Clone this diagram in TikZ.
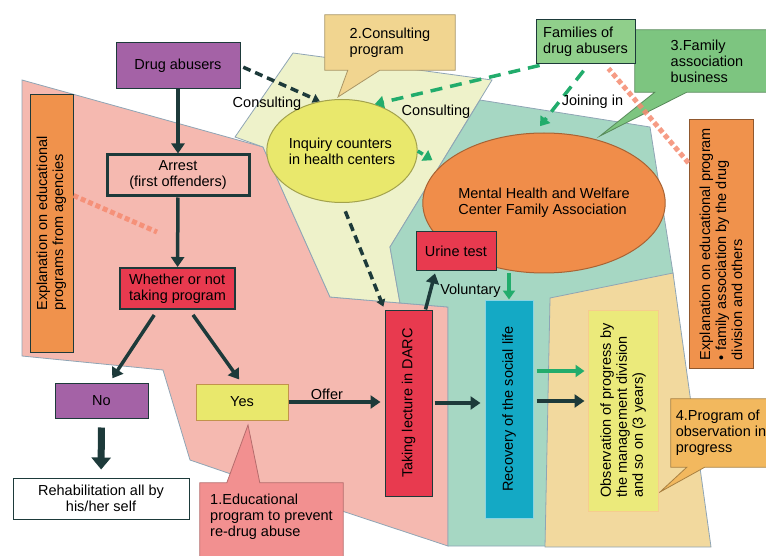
\documentclass[tikz,border=0pt]{standalone}
\usepackage{fontspec}
\setmainfont{Liberation Sans}
\usepackage{xcolor}
\usepackage{tikz}
\usetikzlibrary{arrows.meta,calc,backgrounds,shapes.geometric}
\definecolor{regpink}{HTML}{F5B9B0}
\definecolor{regcream}{HTML}{EEF2CA}
\definecolor{regteal}{HTML}{A6D7C3}
\definecolor{regtan}{HTML}{F2D99E}
\definecolor{regedge}{HTML}{8FA5B5}
\definecolor{boxpurple}{HTML}{A462A6}
\definecolor{boxred}{HTML}{E83A4F}
\definecolor{boxorange}{HTML}{F0924C}
\definecolor{boxyellow}{HTML}{E9E86C}
\definecolor{boxgreen}{HTML}{90CF8B}
\definecolor{boxcyan}{HTML}{14A9C5}
\definecolor{ovalorange}{HTML}{F08D4A}
\definecolor{calltan}{HTML}{F1D590}
\definecolor{callgreen}{HTML}{7DC580}
\definecolor{callorange}{HTML}{F2B85E}
\definecolor{callpink}{HTML}{F29090}
\definecolor{arrdark}{HTML}{1D3A3A}
\definecolor{arrgreen}{HTML}{22AC6C}
\definecolor{dashsalmon}{HTML}{F58B70}

\begin{document}
\begin{tikzpicture}[x=1pt,y=-1pt,
    txt/.style    = {font=\fontsize{14.5}{16}\selectfont,inner sep=2pt},
    box/.style    = {txt,rectangle,draw=arrdark,line width=1pt,align=center},
    vbox/.style   = {box,rotate=90},
    oval/.style   = {txt,ellipse,line width=1pt,align=left,inner sep=0pt},
    region/.style = {draw=regedge,line width=0.8pt},
    callout/.style= {line width=0.8pt},
    fl/.style     = {-{Triangle[length=10pt,width=13pt]},draw=arrdark,line width=3.5pt},
    fat/.style    = {-{Triangle[length=12pt,width=19pt]},draw=arrdark,line width=7pt},
    dfl/.style    = {-{Triangle[length=7pt,width=9pt]},draw=arrdark,line width=3.5pt,
                     dash pattern=on 8pt off 5pt},
    gfl/.style    = {-{Triangle[length=9pt,width=12pt]},draw=arrgreen,line width=3.5pt},
    gdfl/.style   = {gfl,dash pattern=on 12pt off 8pt},
    sal/.style    = {draw=dashsalmon,line width=5pt,dash pattern=on 5pt off 3pt,opacity=0.85},
    lab/.style    = {txt,inner sep=1pt},
  ]
  \useasboundingbox (0,0) rectangle (766,556);

  % background areas
  \begin{scope}[on background layer]
    \filldraw[region,fill=regpink] (22,80) -- (263,147) -- (330,297) -- (448,307) -- (448,546)
      -- (345,512) -- (225,472) -- (190,460) -- (163,370) -- (22,356) -- cycle;
    \filldraw[region,fill=regcream] (235,137) -- (293,53) -- (492,80) -- (390,247) -- (400,303)
      -- (330,297) -- (263,147) -- cycle;
    \filldraw[region,fill=regteal] (480,100) -- (650,127) -- (673,273) -- (690,546) -- (448,546)
      -- (448,307) -- (400,303) -- (390,247) -- cycle;
    \filldraw[region,fill=regtan] (550,298) -- (673,273) -- (711,547) -- (545,547) -- cycle;
  \end{scope}

  \node[box,fill=boxpurple,minimum width=124,minimum height=46] (abusers) at (178,66) {Drug abusers};
  \node[box,fill=regpink,line width=3pt,minimum width=142,minimum height=41] (arrest) at (178,175.5)
       {Arrest\\(first offenders)};
  \node[box,fill=boxred,line width=2pt,align=left,minimum width=115,minimum height=41] (choice)
       at (177.5,288.5) {Whether or not\\taking program};
  \node[vbox,fill=boxorange,align=left,minimum width=257,minimum height=43] (agencyinfo)
       at (51.5,223.5) {Explanation on educational\\programs from agencies};
  \node[box,fill=boxpurple,minimum width=93,minimum height=35] (no) at (101.5,400.5) {No};
  \node[box,fill=boxyellow,draw=callorange!80!black,minimum width=92,minimum height=36] (yes)
       at (242,402) {Yes};
  \node[box,fill=white,minimum width=176,minimum height=41] (selfrehab) at (101,498.5)
       {Rehabilitation all by\\his/her self};
  \node[oval,fill=boxyellow,draw=boxyellow!70!black,minimum width=139,minimum height=103] (inquiry)
       at (342,151) {Inquiry counters\\in health centers};
  \node[oval,fill=ovalorange,draw=ovalorange!70!black,minimum width=217,minimum height=140] (mental)
       at (544,203) {Mental Health and Welfare\\Center Family Association};
  \node[box,fill=boxred,minimum width=80,minimum height=39] (urine) at (456,251.5) {Urine test};
  \node[vbox,fill=boxred,minimum width=186,minimum height=47] (darc) at (408.5,403)
       {Taking lecture in DARC};
  \node[vbox,fill=boxcyan,draw=boxcyan!50!white,minimum width=218,minimum height=48] (recovery)
       at (509,409) {Recovery of the social life};
  \node[vbox,fill=boxyellow!90!white,draw=callorange!70!white,align=left,minimum width=201,
        minimum height=70] (observe) at (623,410.5)
       {Observation of progress by\\the management division\\and so on (3 years)};
  \node[box,fill=boxgreen,align=left,minimum width=99,minimum height=44] (families) at (585.5,42)
       {Families of\\drug abusers};
  \node[vbox,fill=boxorange,draw=boxorange!60!black,align=left,minimum width=248,minimum height=64]
       (familyinfo) at (721,244)
       {Explanation on educational program\\• family association by the drug\\division and others};

  % callouts
  \node[txt,align=left,minimum width=130,minimum height=55] (consprog) at (390,42.5)
       {2.Consulting\\program};
  \node[txt,align=left,minimum width=144,minimum height=62] (assocprog) at (707,61)
       {3.Family\\association\\business};
  \node[txt,align=left,minimum width=100,minimum height=68] (obsprog) at (721,433)
       {4.Program of\\observation in\\progress};
  \node[txt,align=left,minimum width=143,minimum height=68] (eduprog) at (271.5,517)
       {1.Educational\\program to prevent\\re-drug abuse};
  \begin{scope}[on background layer]
    \filldraw[callout,fill=calltan,draw=calltan!70!black] (consprog.north west) -- (consprog.north east)
      -- (consprog.south east) -- ($(consprog.south west)+(55,0)$) -- (338,97)
      -- ($(consprog.south west)+(23,0)$) -- (consprog.south west) -- cycle;
    \filldraw[callout,fill=callgreen,draw=callgreen!70!black] (assocprog.north west)
      -- (assocprog.north east) -- (assocprog.south east) -- ($(assocprog.south west)+(52,0)$)
      -- (600,136) -- ($(assocprog.south west)+(20,0)$) -- (assocprog.south west) -- cycle;
    \filldraw[callout,fill=callorange,draw=callorange!70!black] (obsprog.north west)
      -- (obsprog.north east) -- (obsprog.south east) -- ($(obsprog.south west)+(34,0)$)
      -- (660,492) -- ($(obsprog.south west)+(16,0)$) -- (obsprog.south west) -- cycle;
    \filldraw[callout,fill=callpink,draw=callpink!75!black] (eduprog.north west)
      -- ($(eduprog.north west)+(27,0)$) -- (248,425) -- ($(eduprog.north west)+(60,0)$)
      -- (eduprog.north east) -- ($(eduprog.south east)+(0,12)$) -- ($(eduprog.south west)+(0,12)$)
      -- cycle;
  \end{scope}

  % main flow
  \draw[fl] (abusers) -- (arrest);
  \draw[fl] (arrest) -- (choice);
  \draw[fl,shorten <=6pt,shorten >=5pt] ($(choice.south)+(-20,0)$) -- ($(no.north)+(8,0)$);
  \draw[fl,shorten <=6pt,shorten >=5pt] ($(choice.south)+(12,0)$) -- (yes.north);
  \draw[fat,shorten <=9pt,shorten >=8pt] (no) -- (selfrehab);
  \draw[fl,shorten >=4pt] (yes.east) -- node[lab,above,pos=0.4] {Offer} (yes.east -| darc.north);
  \draw[fl,shorten <=2pt,shorten >=4pt] (darc.south) -- (darc.south -| recovery.north);
  \coordinate (recout) at ($(recovery.south)+(0,-8)$);
  \coordinate (recgreen) at ($(recovery.south)+(0,-38)$);
  \draw[fl,shorten <=3pt,shorten >=3pt] (recout) -- (recout -| observe.north);
  \draw[gfl,shorten <=3pt,shorten >=3pt] (recgreen) -- (recgreen -| observe.north);
  \draw[fl,shorten >=2pt] ($(darc.east)+(17,0)$) -- node[lab,right=7pt,pos=0.5] {Voluntary}
       ($(urine.south west)+(20,0)$);
  \draw[gfl] (mental.south -| recovery.east) -- (recovery.east);

  % consulting
  \draw[dfl,shorten <=3pt] (abusers.east) -- node[lab,below left,pos=0.8] {Consulting} (inquiry.114);
  \draw[dfl,shorten <=9pt,shorten >=3pt] (inquiry.south) -- (darc.north east);
  \draw[gdfl,shorten <=4pt] ($(families.south west)+(8,0)$) -- (inquiry.55);
  \draw[gdfl,dash pattern=on 6pt off 4pt,shorten >=10pt] (inquiry.east) -- (mental.160);
  \node[lab] (conslabel) at (436,112) {Consulting};
  \draw[gdfl,shorten <=8pt,shorten >=8pt] ($(families.south)+(3,0)$)
       -- node[lab,right,pos=0.55] {Joining in} ($(mental.north)+(-9,0)$);

  % explanation pointers
  \coordinate (edupoint) at (157,232);
  \draw[sal] ($(agencyinfo.south)+(0,-28)$) -- (edupoint);
  \draw[sal] ($(familyinfo.north)+(0,-81)$) -- ($(families.south)+(23,4)$);
\end{tikzpicture}
\end{document}
